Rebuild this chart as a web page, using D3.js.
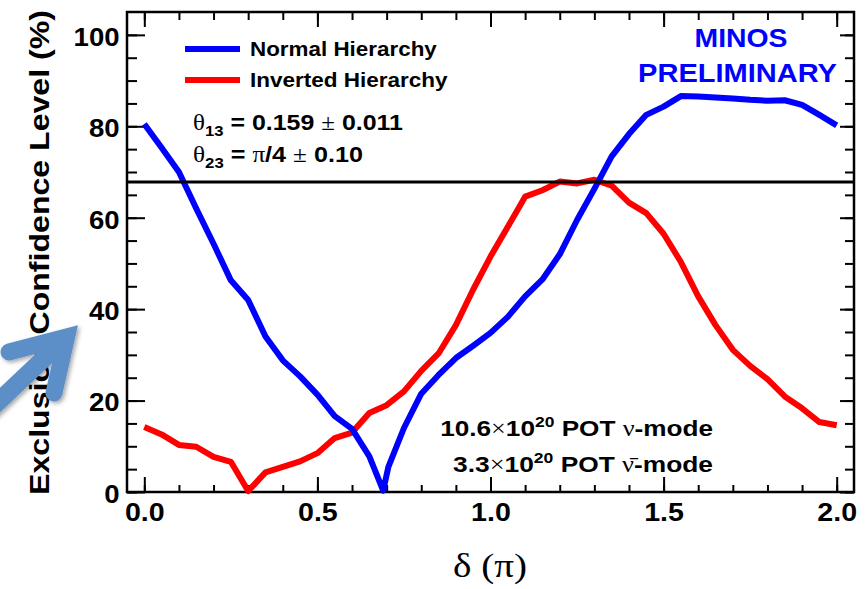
<!DOCTYPE html>
<html>
<head>
<meta charset="utf-8">
<script src="https://cdn.jsdelivr.net/npm/d3@7"></script>
<style>
  body { margin: 0; background: #fff; }
  svg { display: block; font-family: "Liberation Sans", Arial, Helvetica, sans-serif; }
</style>
</head>
<body>
<div id="chart"></div>
<script>
// delta (units of pi) and exclusion CL (%)
var deltaNH = [0.00, 0.05, 0.10, 0.15, 0.20, 0.25, 0.30, 0.35, 0.40, 0.45, 0.50, 0.55, 0.60, 0.65, 0.69, 0.705,
  0.75, 0.80, 0.85, 0.90, 0.95, 1.00, 1.05, 1.10, 1.15, 1.20, 1.25, 1.30, 1.35, 1.40, 1.45, 1.50,
  1.55, 1.60, 1.65, 1.70, 1.75, 1.80, 1.85, 1.90, 1.95, 2.00];
var clNH = [80.5, 75.3, 70.0, 62.0, 54.3, 46.3, 42.0, 34.0, 28.8, 25.3, 21.3, 16.6, 13.8, 7.8, 0.3, 5.5,
  14.0, 21.5, 25.6, 29.3, 32.0, 34.8, 38.3, 42.8, 46.5, 52.0, 59.5, 66.3, 73.4, 78.3, 82.5, 84.3,
  86.6, 86.5, 86.3, 86.1, 85.8, 85.6, 85.7, 84.7, 82.5, 80.2];

var deltaIH = [0.00, 0.05, 0.10, 0.15, 0.20, 0.25, 0.30, 0.35, 0.40, 0.45, 0.50, 0.55, 0.60, 0.65,
  0.70, 0.75, 0.80, 0.85, 0.90, 0.95, 1.00, 1.05, 1.10, 1.15, 1.20, 1.25, 1.30, 1.35, 1.40, 1.45,
  1.50, 1.55, 1.60, 1.65, 1.70, 1.75, 1.80, 1.85, 1.90, 1.95, 2.00];
var clIH = [14.2, 12.6, 10.3, 9.9, 7.7, 6.6, 0.2, 4.3, 5.5, 6.7, 8.5, 11.8, 13.0, 17.3,
  19.0, 22.0, 26.5, 30.3, 36.5, 44.3, 51.5, 58.0, 64.6, 66.0, 67.9, 67.5, 68.3, 67.0, 63.3, 61.0,
  56.5, 50.3, 42.8, 36.5, 31.1, 27.6, 24.7, 20.9, 18.3, 15.3, 14.6];

var xTicks = [0.0, 0.5, 1.0, 1.5, 2.0];
var xMinorTicks = [0.0, 0.1, 0.2, 0.3, 0.4, 0.5, 0.6, 0.7, 0.8, 0.9, 1.0, 1.1, 1.2, 1.3, 1.4, 1.5, 1.6, 1.7, 1.8, 1.9, 2.0];
var yTicks = [0, 20, 40, 60, 80, 100];
var yMinorTicks = [0, 5, 10, 15, 20, 25, 30, 35, 40, 45, 50, 55, 60, 65, 70, 75, 80, 85, 90, 95, 100];
var clLine = 67.8;

var seriesNames = ["Normal Hierarchy", "Inverted Hierarchy"];
var seriesColors = ["#0000ff", "#ff0000"];

// SVG area
var svgWidth = 867;
var svgHeight = 589;

var chartMargin = { top: 12, right: 13, bottom: 97, left: 127 };
var chartWidth = svgWidth - chartMargin.left - chartMargin.right;
var chartHeight = svgHeight - chartMargin.top - chartMargin.bottom;

var svg = d3.select("#chart")
  .append("svg")
  .attr("width", svgWidth)
  .attr("height", svgHeight);

var defs = svg.append("defs");
var shadow = defs.append("filter").attr("id", "shadow")
  .attr("x", "-30%").attr("y", "-30%").attr("width", "160%").attr("height", "160%");
shadow.append("feDropShadow")
  .attr("dx", 2).attr("dy", 2).attr("stdDeviation", 2)
  .attr("flood-color", "#000").attr("flood-opacity", 0.35);

var chartGroup = svg.append("g")
  .attr("transform", `translate(${chartMargin.left}, ${chartMargin.top})`);

var x = d3.scaleLinear().domain([-0.05, 2.05]).range([0, chartWidth]);
var y = d3.scaleLinear().domain([0, 105]).range([chartHeight, 0]);

// stretch a text element horizontally so it spans a given width
function fitText(sel, width) {
  var w = sel.node().getBBox().width;
  var t = sel.attr("transform") || "";
  sel.attr("transform", t + ` scale(${width / w},1)`);
  return sel;
}

function styleTicks(g) {
  g.select(".domain").remove();
  g.selectAll(".tick line").attr("stroke", "#000").attr("stroke-width", 2);
}

// minor ticks, all four sides, pointing inward
chartGroup.append("g").attr("transform", `translate(0, ${chartHeight})`)
  .call(d3.axisBottom(x).tickValues(xMinorTicks).tickSize(-7).tickFormat(""))
  .call(styleTicks);
chartGroup.append("g")
  .call(d3.axisTop(x).tickValues(xMinorTicks).tickSize(-8).tickFormat(""))
  .call(styleTicks);
chartGroup.append("g")
  .call(d3.axisLeft(y).tickValues(yMinorTicks).tickSize(-10).tickFormat(""))
  .call(styleTicks);
chartGroup.append("g").attr("transform", `translate(${chartWidth}, 0)`)
  .call(d3.axisRight(y).tickValues(yMinorTicks).tickSize(-9).tickFormat(""))
  .call(styleTicks);

// major ticks
var bottomAxis = chartGroup.append("g").attr("transform", `translate(0, ${chartHeight})`)
  .call(d3.axisBottom(x).tickValues(xTicks).tickSize(-15).tickPadding(11).tickFormat(d3.format(".1f")))
  .call(styleTicks);
chartGroup.append("g")
  .call(d3.axisTop(x).tickValues(xTicks).tickSize(-15).tickFormat(""))
  .call(styleTicks);
var leftAxis = chartGroup.append("g")
  .call(d3.axisLeft(y).tickValues(yTicks).tickSize(-18).tickPadding(7).tickFormat(d3.format("d")))
  .call(styleTicks);
chartGroup.append("g").attr("transform", `translate(${chartWidth}, 0)`)
  .call(d3.axisRight(y).tickValues(yTicks).tickSize(-14).tickFormat(""))
  .call(styleTicks);

bottomAxis.selectAll("text")
  .attr("font-family", "'Liberation Sans', Arial, sans-serif")
  .attr("font-weight", "bold").attr("font-size", 26).attr("fill", "#000")
  .attr("transform", "scale(1.1,1)");
leftAxis.selectAll("text")
  .attr("font-family", "'Liberation Sans', Arial, sans-serif")
  .attr("font-weight", "bold").attr("font-size", 26).attr("fill", "#000")
  .attr("dy", "0.4em")
  .attr("transform", "scale(1.06,1)");

// frame
chartGroup.append("rect")
  .attr("width", chartWidth).attr("height", chartHeight)
  .attr("fill", "none").attr("stroke", "#000").attr("stroke-width", 2.5);

// curves
var line = d3.line().x(d => x(d[0])).y(d => y(d[1]));
var nhData = deltaNH.map((d, i) => [d, clNH[i]]);
var ihData = deltaIH.map((d, i) => [d, clIH[i]]);

chartGroup.append("path").datum(ihData)
  .attr("d", line).attr("fill", "none")
  .attr("stroke", seriesColors[1]).attr("stroke-width", 6).attr("stroke-linejoin", "round");
chartGroup.append("path").datum(nhData)
  .attr("d", line).attr("fill", "none")
  .attr("stroke", seriesColors[0]).attr("stroke-width", 6).attr("stroke-linejoin", "round");

// 68% CL line
chartGroup.append("line")
  .attr("x1", 0).attr("x2", chartWidth)
  .attr("y1", y(clLine)).attr("y2", y(clLine))
  .attr("stroke", "#000").attr("stroke-width", 3);

// legend
var legendY = [49, 80];
seriesNames.forEach(function(name, i) {
  svg.append("line")
    .attr("x1", 185).attr("x2", 240)
    .attr("y1", legendY[i]).attr("y2", legendY[i])
    .attr("stroke", seriesColors[i]).attr("stroke-width", 6);
  var t = svg.append("text")
    .attr("transform", `translate(250, ${legendY[i] + 6.5})`)
    .attr("font-size", 19.5).attr("font-weight", "bold")
    .text(name);
  fitText(t, i === 0 ? 187 : 198);
});

// oscillation parameter text
var th1 = svg.append("text").attr("transform", "translate(193, 130)")
  .attr("font-size", 22.5).attr("font-weight", "bold");
th1.append("tspan").attr("font-family", "'Liberation Serif', serif").attr("font-weight", "normal").text("θ");
th1.append("tspan").attr("font-size", 15).attr("dy", 6).text("13");
th1.append("tspan").attr("dy", -6).text(" = 0.159 ");
th1.append("tspan").attr("font-family", "'Liberation Serif', serif").attr("font-weight", "normal").text("±");
th1.append("tspan").text(" 0.011");
fitText(th1, 210);

var th2 = svg.append("text").attr("transform", "translate(193, 161.5)")
  .attr("font-size", 22.5).attr("font-weight", "bold");
th2.append("tspan").attr("font-family", "'Liberation Serif', serif").attr("font-weight", "normal").text("θ");
th2.append("tspan").attr("font-size", 15).attr("dy", 6).text("23");
th2.append("tspan").attr("dy", -6).text(" = ");
th2.append("tspan").attr("font-family", "'Liberation Serif', serif").attr("font-weight", "normal").text("π");
th2.append("tspan").text("/4 ");
th2.append("tspan").attr("font-family", "'Liberation Serif', serif").attr("font-weight", "normal").text("±");
th2.append("tspan").text(" 0.10");
fitText(th2, 170);

// MINOS label
fitText(svg.append("text").attr("transform", "translate(741, 47)")
  .attr("text-anchor", "middle").attr("font-size", 26).attr("font-weight", "bold")
  .attr("fill", "#0000ff").text("MINOS"), 93);
fitText(svg.append("text").attr("transform", "translate(737.5, 82)")
  .attr("text-anchor", "middle").attr("font-size", 26).attr("font-weight", "bold")
  .attr("fill", "#0000ff").text("PRELIMINARY"), 199);

// exposure text
function potLine(yPos, num, nu, width) {
  var t = svg.append("text").attr("transform", `translate(713, ${yPos})`)
    .attr("text-anchor", "end").attr("font-size", 22.5).attr("font-weight", "bold");
  t.append("tspan").text(num);
  t.append("tspan").attr("font-family", "'Liberation Serif', serif").attr("font-weight", "normal").text("×");
  t.append("tspan").text("10");
  t.append("tspan").attr("font-size", 15).attr("dy", -9).text("20");
  t.append("tspan").attr("dy", 9).text(" POT ");
  t.append("tspan").attr("font-family", "'Liberation Serif', serif").attr("font-weight", "normal").text(nu);
  t.append("tspan").text("-mode");
  fitText(t, width);
}
potLine(436, "10.6", "ν", 273);
potLine(471.5, "3.3", "ν\u0304", 260);

// axis titles
fitText(svg.append("text").attr("transform", "translate(490, 577)")
  .attr("text-anchor", "middle").attr("font-size", 33)
  .attr("font-family", "'Liberation Serif', 'Times New Roman', serif")
  .text("δ (π)"), 74);

fitText(svg.append("text").attr("transform", "translate(49, 252.5) rotate(-90)")
  .attr("text-anchor", "middle").attr("font-size", 27).attr("font-weight", "bold")
  .text("Exclusion Confidence Level (%)"), 485);

// callout arrow drawn over the axis title
var arrowG = svg.append("g").attr("filter", "url(#shadow)");
arrowG.append("path")
  .attr("d", "M-20,419 L66.6,337")
  .attr("fill", "none").attr("stroke", "#5b8fc7").attr("stroke-width", 18);
arrowG.append("path")
  .attr("d", "M9,352 L66.6,337 L54,393")
  .attr("fill", "none").attr("stroke", "#5b8fc7").attr("stroke-width", 17)
  .attr("stroke-linecap", "round").attr("stroke-linejoin", "miter").attr("stroke-miterlimit", 10);
</script>
</body>
</html>
